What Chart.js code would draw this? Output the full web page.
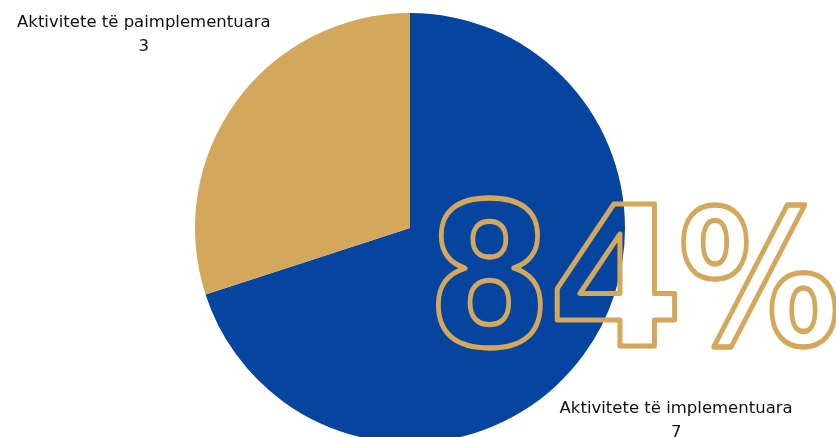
<!DOCTYPE html>
<html>
<head>
<meta charset="utf-8">
<script src="https://cdn.jsdelivr.net/npm/chart.js@4/dist/chart.umd.min.js"></script>
<style>
  html, body { margin: 0; padding: 0; background: #fff; overflow: hidden; }
  #wrap { width: 836px; height: 437px; overflow: hidden; }
</style>
</head>
<body>
<div id="wrap"><canvas id="myChart" width="836" height="456"></canvas></div>
<script>
var labels = ['Aktivitete të implementuara', 'Aktivitete të paimplementuara'];
var values = [7, 3];
var colors = ['#05449F', '#D3A85B'];
var bigText = '84%';

// labels outside each slice: name + value, placed along the mid angle
var outsideLabels = {
    id: 'outsideLabels',
    afterDraw: function (chart) {
        var ctx = chart.ctx;
        var meta = chart.getDatasetMeta(0);
        ctx.save();
        ctx.fillStyle = '#111';
        ctx.textAlign = 'center';
        ctx.textBaseline = 'middle';
        ctx.font = '500 15px "DejaVu Sans", sans-serif';
        meta.data.forEach(function (arc, i) {
            var mid = (arc.startAngle + arc.endAngle) / 2;
            var r = arc.outerRadius * 1.53;
            var x = arc.x + Math.cos(mid) * r;
            var y = arc.y + Math.sin(mid) * r;
            ctx.save();
            ctx.translate(x, y);
            ctx.scale(1.1, 1);
            ctx.fillText(labels[i], 0, -12);
            ctx.fillText(String(values[i]), 0, 12);
            ctx.restore();
        });
        ctx.restore();
    }
};

// big outlined percentage over the pie, each glyph fitted to its box
var bigPercent = {
    id: 'bigPercent',
    afterDraw: function (chart) {
        var ctx = chart.ctx;
        var boxes = [
            [438, 199, 103, 149],
            [557, 204, 118, 142],
            [683, 205, 152, 142]
        ];
        ctx.save();
        ctx.font = 'bold 204px "DejaVu Sans", sans-serif';
        ctx.textBaseline = 'alphabetic';
        ctx.textAlign = 'left';
        ctx.lineJoin = 'round';
        ctx.lineWidth = 5;
        ctx.strokeStyle = '#D3A85B';
        bigText.split('').forEach(function (ch, i) {
            var b = boxes[i];
            var m = ctx.measureText(ch);
            var inkW = m.actualBoundingBoxLeft + m.actualBoundingBoxRight;
            var inkH = m.actualBoundingBoxAscent + m.actualBoundingBoxDescent;
            var sx = b[2] / inkW;
            var sy = b[3] / inkH;
            ctx.save();
            ctx.translate(b[0], b[1]);
            ctx.scale(sx, sy);
            ctx.lineWidth = 5 / Math.sqrt(sx * sy);
            ctx.strokeText(ch, m.actualBoundingBoxLeft, m.actualBoundingBoxAscent);
            ctx.restore();
        });
        ctx.restore();
    }
};

var ctx = document.getElementById('myChart').getContext('2d');
var myChart = new Chart(ctx, {
    type: 'pie',
    data: {
        labels: labels,
        datasets: [{
            data: values,
            backgroundColor: colors,
            borderWidth: 0
        }]
    },
    options: {
        responsive: false,
        animation: false,
        layout: {
            padding: { left: 0, right: 16, top: 13, bottom: 13 }
        },
        plugins: {
            legend: { display: false },
            tooltip: { enabled: false }
        }
    },
    plugins: [outsideLabels, bigPercent]
});
</script>
</body>
</html>
